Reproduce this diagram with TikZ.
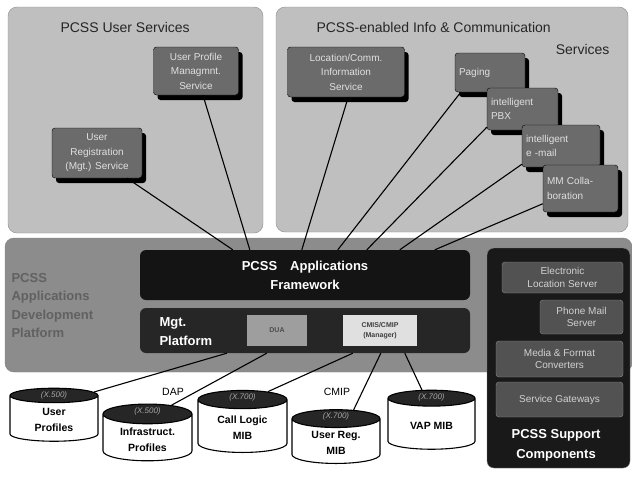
\documentclass[tikz,border=0pt]{standalone}
\usepackage{fontspec}
\setmainfont{Liberation Sans}
\usetikzlibrary{shapes.geometric,shadows}

\begin{document}
\begin{tikzpicture}[x=1pt, y=-1pt,
    panel/.style={rectangle, draw=black!45, rounded corners=9pt, fill=black!25},
    svc/.style={rectangle, draw=black, rounded corners=3pt, fill=black!58, text=black!12, align=center, inner sep=2pt, font=\fontsize{10}{14.5}\selectfont, drop shadow={shadow xshift=4pt, shadow yshift=-5pt, fill=black, opacity=1}},
    tool/.style={rectangle, draw=black!45, rounded corners=3pt, fill=black!68, text=black!18, align=center, font=\fontsize{10}{12.5}\selectfont},
    store/.style={cylinder, shape border rotate=90, draw=black, line width=1.1pt, aspect=0.32, cylinder uses custom fill, cylinder body fill=white, cylinder end fill=black!85, align=center, font=\fontsize{10.5}{16}\selectfont\bfseries},
    tag/.style={font=\fontsize{8}{9}\selectfont\itshape, text=black!35},
    wire/.style={draw=black, line width=1.1pt},
    title/.style={font=\fontsize{14}{16}\selectfont, text=black!85}
]
\useasboundingbox (0,0) rectangle (632,477);

% panels
\node[panel, minimum width=255pt, minimum height=226pt] (usp) at (135.5,120) {};
\node[panel, minimum width=352pt, minimum height=225pt] (icp) at (452,119.5) {};
\node[panel, draw=black!50, fill=black!45, minimum width=627pt, minimum height=134pt] (adp) at (318.5,305) {};
\node[title, anchor=west] at (57,27) {PCSS User Services};
\node[title, anchor=west] at (313,27) {PCSS-enabled Info \& Communication};
\node[title, anchor=east] at (613,49) {Services};

% user services
\node[svc, minimum width=85pt, minimum height=48pt] (upm) at (196,71) {User Profile\\Managmnt.\\Service};
\node[svc, minimum width=90pt, minimum height=50pt] (urs) at (97,153) {User\\Registration\\(Mgt.) Service};

% info and communication services
\node[svc, minimum width=117pt, minimum height=50pt] (lci) at (346,72) {Location/Comm.\\Information\\Service};
\node[svc, minimum width=70pt, minimum height=39pt, text width=62pt, align=left] (paging) at (490,72.5) {Paging};
\node[svc, minimum width=71pt, minimum height=42pt, text width=63pt, align=left] (pbx) at (522.5,109) {intelligent\\PBX};
\node[svc, minimum width=78pt, minimum height=42pt, text width=70pt, align=left] (email) at (561,146) {intelligent\\e -mail};
\node[svc, minimum width=75pt, minimum height=47pt, text width=67pt, align=left] (mm) at (580.5,188.5) {MM Colla-\\boration};

% development platform
\node[anchor=west, align=left, font=\fontsize{13}{18.5}\selectfont\bfseries, text=black!62] at (8,305.5) {PCSS\\Applications\\Development\\Platform};
\node[rectangle, rounded corners=6pt, fill=black!92, minimum width=330pt, minimum height=50pt, align=center, text=white, font=\fontsize{13}{19}\selectfont\bfseries] (fw) at (305,275) {PCSS\quad Applications\\Framework};
\node[rectangle, rounded corners=6pt, fill=black!85, minimum width=330pt, minimum height=45pt] (mgt) at (305,330.5) {};
\node[anchor=west, align=left, text=white, font=\fontsize{13}{19}\selectfont\bfseries] at (156,332) {Mgt.\\Platform};
\node[rectangle, fill=black!38, minimum width=60pt, minimum height=31pt, font=\fontsize{7}{8}\selectfont\bfseries, text=black!70] (dua) at (277,330.5) {DUA};
\node[rectangle, fill=black!12, minimum width=74pt, minimum height=31pt, align=center, font=\fontsize{7}{10}\selectfont\bfseries, text=black!75] (cmis) at (380,330.5) {CMIS/CMIP\\(Manager)};

% support components
\node[rectangle, draw=black!50, rounded corners=7pt, fill=black!90, minimum width=143pt, minimum height=220pt] (sup) at (558.5,358) {};
\node[tool, minimum width=121pt, minimum height=31pt] (els) at (562.5,277.5) {Electronic\\Location Server};
\node[tool, minimum width=83pt, minimum height=34pt] (pms) at (581.5,317) {Phone Mail\\Server};
\node[tool, minimum width=127pt, minimum height=36pt] (mfc) at (559.5,359) {Media \& Format\\Converters};
\node[tool, minimum width=127pt, minimum height=35pt] (sgw) at (559.5,399.5) {Service Gateways};
\node[align=center, text=white, font=\fontsize{13}{20}\selectfont\bfseries] at (556,445) {PCSS Support\\Components};

% data stores
\node[store, minimum width=88pt, minimum height=53pt] (up) at (54,420) {User\\Profiles};
\node[store, minimum width=89pt, minimum height=53pt] (infra) at (147.5,439.5) {Infrastruct.\\Profiles};
\node[store, minimum width=89pt, minimum height=62pt] (call) at (242.5,428) {Call Logic\\MIB};
\node[store, minimum width=88pt, minimum height=52pt] (ureg) at (336,443) {User Reg.\\MIB};
\node[store, minimum width=87pt, minimum height=59pt] (vap) at (431.5,425.5) {VAP MIB};
\node[tag] at ([yshift=-7.5pt]up.north) {(X.500)};
\node[tag] at ([yshift=-7.5pt]infra.north) {(X.500)};
\node[tag] at ([yshift=-7.5pt]call.north) {(X.700)};
\node[tag] at ([yshift=-7.5pt]ureg.north) {(X.700)};
\node[tag] at ([yshift=-7.5pt]vap.north) {(X.700)};
\node[font=\fontsize{10.5}{12}\selectfont] at (173,392) {DAP};
\node[font=\fontsize{10.5}{12}\selectfont] at (337,392) {CMIP};

% links to the framework
\draw[wire] (urs.-40) -- ([xshift=93pt]fw.north west);
\draw[wire] (upm.-74) -- ([xshift=110pt]fw.north west);
\draw[wire] (lci.-85) -- ([xshift=162pt]fw.north west);
\draw[wire] (paging.-146) -- ([xshift=198pt]fw.north west);
\draw[wire] (pbx.-153) -- ([xshift=227pt]fw.north west);
\draw[wire] (email.-155) -- ([xshift=260pt]fw.north west);
\draw[wire] (mm.-158) -- ([xshift=295pt]fw.north west);

% links to the stores
\draw[wire] ([xshift=87pt]mgt.south west) -- (up.35);
\draw[wire] ([xshift=127pt]mgt.south west) -- (infra.55);
\draw[wire] ([xshift=213pt]mgt.south west) -- (call.55);
\draw[wire] ([xshift=241pt]mgt.south west) -- (ureg.62);
\draw[wire] ([xshift=265pt]mgt.south west) -- (vap.105);
\end{tikzpicture}
\end{document}
